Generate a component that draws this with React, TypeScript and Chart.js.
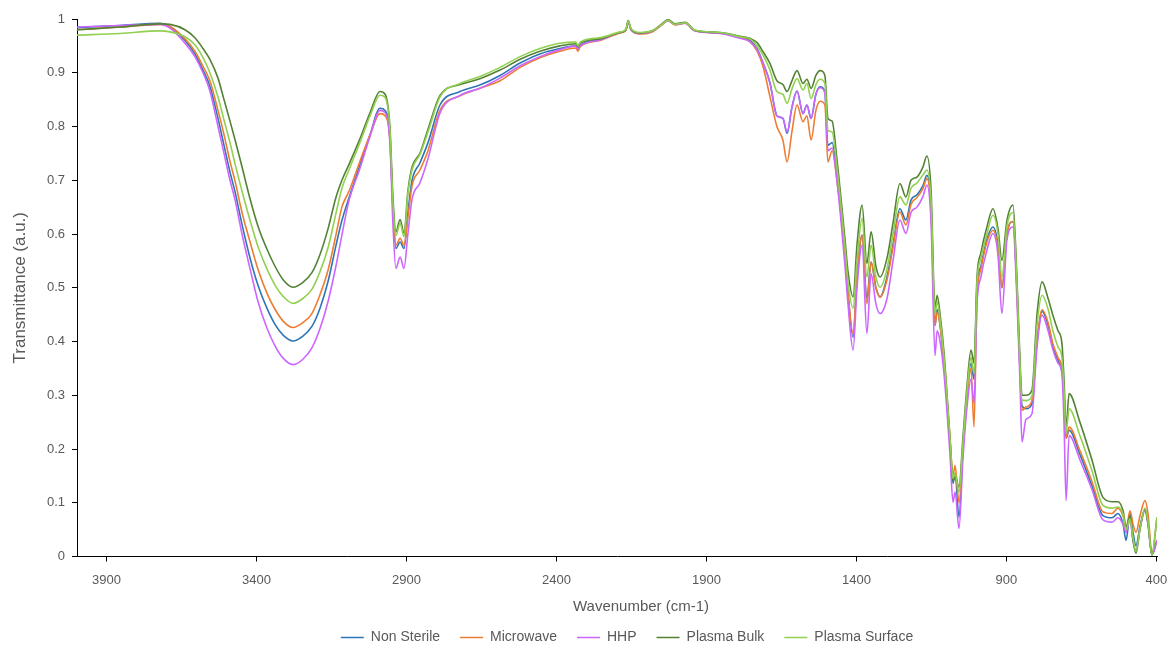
import React, { useEffect, useRef } from 'react';
import { Chart, registerables } from 'chart.js';

Chart.register(...registerables);

// Wavenumber (cm-1) sample positions shared by all series
const wavenumbers = [
  3998, 3855, 3721, 3688, 3638, 3605, 3578, 3555, 3528, 3508, 3488, 3471, 3448, 3421, 3395, 3365, 3338, 3311, 3278,
  3245, 3215, 3188, 3161, 3135, 3115, 3091, 3055, 3021, 2988, 2971, 2955, 2945, 2935, 2921, 2908, 2895, 2881, 2855,
  2828, 2788, 2721, 2655, 2588, 2521, 2455, 2388, 2335, 2328, 2321, 2255, 2188, 2168, 2161, 2151, 2121, 2081, 2048,
  2028, 2005, 1971, 1938, 1855, 1788, 1755, 1731, 1711, 1688, 1665, 1645, 1631, 1615, 1598, 1578, 1565, 1551, 1535,
  1521, 1505, 1495, 1481, 1465, 1438, 1428, 1411, 1398, 1381, 1365, 1351, 1335, 1321, 1298, 1278, 1255, 1235, 1218,
  1198, 1178, 1165, 1151, 1138, 1131, 1121, 1108, 1088, 1078, 1071, 1058, 1045, 1031, 1018, 1008, 998, 985, 965,
  945, 928, 915, 898, 878, 865, 855, 848, 835, 815, 798, 781, 761, 745, 728, 715, 708, 701, 691, 655, 615, 578, 548,
  528, 511, 501, 488, 478, 468, 455, 438, 428, 415, 398,
];

const nonSterile = [
  0.984, 0.988, 0.992, 0.986, 0.960, 0.935, 0.905, 0.875, 0.815, 0.765, 0.715, 0.678, 0.618, 0.555, 0.505, 0.462, 0.432, 0.412, 0.401,
  0.410, 0.428, 0.462, 0.512, 0.578, 0.625, 0.668, 0.728, 0.785, 0.834, 0.830, 0.780, 0.650, 0.573, 0.585, 0.573, 0.640, 0.700, 0.732,
  0.770, 0.840, 0.865, 0.877, 0.895, 0.918, 0.935, 0.945, 0.950, 0.944, 0.951, 0.962, 0.975, 0.980, 0.996, 0.980, 0.973, 0.977, 0.990,
  0.998, 0.990, 0.993, 0.978, 0.974, 0.966, 0.960, 0.945, 0.918, 0.881, 0.820, 0.815, 0.787, 0.835, 0.866, 0.824, 0.840, 0.815, 0.860,
  0.874, 0.865, 0.765, 0.770, 0.710, 0.560, 0.490, 0.408, 0.520, 0.598, 0.480, 0.548, 0.500, 0.483, 0.520, 0.580, 0.647, 0.626, 0.663,
  0.673, 0.690, 0.709, 0.650, 0.430, 0.460, 0.430, 0.360, 0.210, 0.136, 0.155, 0.073, 0.200, 0.300, 0.360, 0.330, 0.500, 0.540, 0.590,
  0.613, 0.580, 0.500, 0.600, 0.623, 0.500, 0.350, 0.281, 0.275, 0.284, 0.400, 0.456, 0.430, 0.390, 0.365, 0.345, 0.300, 0.220, 0.235, 0.190, 0.132, 0.076, 0.072,
  0.080, 0.060, 0.030, 0.080, 0.045, 0.020, 0.055, 0.088, 0.065, 0.003, 0.030,
];

const microwave = [
  0.980, 0.985, 0.990, 0.986, 0.963, 0.940, 0.912, 0.885, 0.830, 0.785, 0.735, 0.698, 0.640, 0.585, 0.535, 0.490, 0.460, 0.438, 0.426,
  0.435, 0.452, 0.487, 0.533, 0.598, 0.650, 0.680, 0.735, 0.785, 0.824, 0.820, 0.775, 0.650, 0.579, 0.592, 0.579, 0.630, 0.690, 0.719,
  0.755, 0.830, 0.857, 0.871, 0.885, 0.910, 0.928, 0.940, 0.946, 0.940, 0.948, 0.960, 0.974, 0.979, 0.994, 0.980, 0.972, 0.976, 0.989,
  0.997, 0.989, 0.992, 0.978, 0.974, 0.965, 0.958, 0.940, 0.911, 0.855, 0.800, 0.775, 0.734, 0.790, 0.840, 0.809, 0.820, 0.775, 0.830,
  0.847, 0.840, 0.734, 0.755, 0.700, 0.560, 0.490, 0.415, 0.520, 0.598, 0.470, 0.548, 0.500, 0.483, 0.515, 0.575, 0.641, 0.617, 0.655,
  0.668, 0.685, 0.703, 0.640, 0.430, 0.455, 0.430, 0.360, 0.220, 0.151, 0.169, 0.100, 0.200, 0.300, 0.350, 0.241, 0.480, 0.535, 0.585,
  0.607, 0.575, 0.500, 0.600, 0.623, 0.500, 0.350, 0.272, 0.278, 0.290, 0.400, 0.459, 0.435, 0.396, 0.370, 0.350, 0.300, 0.220, 0.241, 0.197, 0.140, 0.083, 0.080,
  0.090, 0.075, 0.050, 0.085, 0.060, 0.045, 0.075, 0.104, 0.080, 0.008, 0.030,
];

const hhp = [
  0.985, 0.988, 0.990, 0.983, 0.955, 0.930, 0.900, 0.866, 0.800, 0.750, 0.700, 0.663, 0.600, 0.535, 0.475, 0.425, 0.392, 0.369, 0.357,
  0.367, 0.388, 0.424, 0.475, 0.540, 0.598, 0.663, 0.722, 0.782, 0.830, 0.826, 0.770, 0.620, 0.536, 0.557, 0.536, 0.600, 0.665, 0.695,
  0.740, 0.825, 0.858, 0.871, 0.890, 0.913, 0.930, 0.943, 0.950, 0.944, 0.950, 0.961, 0.975, 0.980, 0.995, 0.980, 0.973, 0.977, 0.990,
  0.997, 0.990, 0.992, 0.978, 0.973, 0.964, 0.958, 0.943, 0.918, 0.881, 0.820, 0.815, 0.790, 0.835, 0.866, 0.824, 0.840, 0.815, 0.860,
  0.872, 0.862, 0.755, 0.760, 0.700, 0.540, 0.470, 0.384, 0.500, 0.579, 0.415, 0.526, 0.470, 0.452, 0.480, 0.550, 0.626, 0.601, 0.640,
  0.650, 0.670, 0.691, 0.620, 0.374, 0.420, 0.400, 0.340, 0.190, 0.101, 0.120, 0.052, 0.180, 0.280, 0.330, 0.285, 0.470, 0.520, 0.570,
  0.601, 0.560, 0.452, 0.590, 0.613, 0.480, 0.330, 0.213, 0.255, 0.265, 0.390, 0.449, 0.420, 0.385, 0.360, 0.340, 0.250, 0.104, 0.225, 0.180, 0.125, 0.068, 0.064,
  0.072, 0.060, 0.045, 0.070, 0.030, 0.010, 0.050, 0.085, 0.060, 0.003, 0.030,
];

const plasmaBulk = [
  0.980, 0.985, 0.991, 0.990, 0.980, 0.965, 0.945, 0.925, 0.890, 0.850, 0.810, 0.775, 0.725, 0.665, 0.615, 0.572, 0.540, 0.515, 0.501,
  0.510, 0.528, 0.562, 0.610, 0.668, 0.700, 0.730, 0.777, 0.826, 0.865, 0.860, 0.800, 0.670, 0.604, 0.627, 0.601, 0.680, 0.725, 0.750,
  0.795, 0.858, 0.878, 0.889, 0.905, 0.925, 0.940, 0.950, 0.954, 0.948, 0.955, 0.963, 0.975, 0.980, 0.997, 0.981, 0.974, 0.978, 0.991,
  0.999, 0.991, 0.994, 0.979, 0.975, 0.968, 0.964, 0.956, 0.939, 0.917, 0.885, 0.878, 0.865, 0.885, 0.904, 0.880, 0.888, 0.871, 0.895,
  0.904, 0.895, 0.815, 0.810, 0.740, 0.590, 0.530, 0.483, 0.580, 0.654, 0.545, 0.604, 0.540, 0.520, 0.555, 0.620, 0.694, 0.669, 0.700,
  0.706, 0.725, 0.745, 0.680, 0.460, 0.486, 0.450, 0.380, 0.220, 0.140, 0.150, 0.129, 0.220, 0.320, 0.384, 0.360, 0.520, 0.565, 0.613,
  0.647, 0.610, 0.551, 0.626, 0.654, 0.520, 0.370, 0.300, 0.300, 0.309, 0.450, 0.511, 0.480, 0.449, 0.420, 0.397, 0.330, 0.240, 0.303, 0.250, 0.180, 0.110, 0.102,
  0.102, 0.085, 0.055, 0.075, 0.030, 0.006, 0.050, 0.088, 0.060, 0.003, 0.073,
];

const plasmaSurface = [
  0.970, 0.973, 0.978, 0.976, 0.967, 0.952, 0.928, 0.900, 0.855, 0.812, 0.770, 0.730, 0.680, 0.625, 0.577, 0.535, 0.505, 0.484, 0.471,
  0.480, 0.497, 0.530, 0.575, 0.638, 0.685, 0.720, 0.770, 0.820, 0.858, 0.854, 0.795, 0.660, 0.597, 0.620, 0.595, 0.675, 0.720, 0.748,
  0.790, 0.855, 0.880, 0.893, 0.910, 0.930, 0.945, 0.955, 0.957, 0.950, 0.957, 0.965, 0.976, 0.981, 0.996, 0.982, 0.975, 0.978, 0.990,
  0.998, 0.990, 0.993, 0.979, 0.975, 0.967, 0.963, 0.950, 0.933, 0.905, 0.865, 0.860, 0.843, 0.870, 0.889, 0.868, 0.880, 0.852, 0.878,
  0.888, 0.880, 0.793, 0.790, 0.725, 0.575, 0.510, 0.462, 0.550, 0.629, 0.520, 0.579, 0.520, 0.501, 0.535, 0.600, 0.669, 0.654, 0.685,
  0.695, 0.710, 0.719, 0.660, 0.450, 0.474, 0.440, 0.370, 0.220, 0.145, 0.155, 0.120, 0.210, 0.310, 0.370, 0.340, 0.510, 0.555, 0.600,
  0.635, 0.600, 0.520, 0.615, 0.640, 0.510, 0.360, 0.291, 0.290, 0.298, 0.430, 0.486, 0.460, 0.420, 0.390, 0.370, 0.310, 0.230, 0.275, 0.225, 0.160, 0.095, 0.090,
  0.092, 0.078, 0.050, 0.070, 0.035, 0.010, 0.050, 0.090, 0.065, 0.003, 0.073,
];

const seriesNames = ['Non Sterile', 'Microwave', 'HHP', 'Plasma Bulk', 'Plasma Surface'];
const seriesColors = ['#2E75B6', '#ED7D31', '#CC66FF', '#548235', '#92D050'];
const xTickValues = [3900, 3400, 2900, 2400, 1900, 1400, 900, 400];
const yTickValues = [0, 0.1, 0.2, 0.3, 0.4, 0.5, 0.6, 0.7, 0.8, 0.9, 1];
const xTitle = 'Wavenumber (cm-1)';
const yTitle = 'Transmittance (a.u.)';

const FONT = '"Liberation Sans", Arial, sans-serif';
const TEXT = '#595959';

const xTitlePlugin = {
  id: 'xTitleDraw',
  afterLayout(chart: any) {
    if (chart.legend) {
      chart.legend.left += 10;
      chart.legend.right += 10;
    }
  },
  afterDraw(chart: any) {
    const { ctx, chartArea } = chart;
    ctx.save();
    ctx.font = `15px ${FONT}`;
    ctx.fillStyle = TEXT;
    ctx.textAlign = 'center';
    ctx.textBaseline = 'middle';
    ctx.fillText(xTitle, (chartArea.left + chartArea.right) / 2 + 24, chartArea.bottom + 50);
    ctx.restore();
  },
};

export default function App() {
  const canvasRef = useRef<HTMLCanvasElement>(null);

  useEffect(() => {
    document.body.style.margin = '0';
    document.body.style.overflow = 'hidden';
    const series = [nonSterile, microwave, hhp, plasmaBulk, plasmaSurface];
    const chart = new Chart(canvasRef.current as HTMLCanvasElement, {
      type: 'line',
      data: {
        datasets: series.map((vals, i) => ({
          label: seriesNames[i],
          data: wavenumbers.map((x, j) => ({ x, y: vals[j] })),
          borderColor: seriesColors[i],
          backgroundColor: seriesColors[i],
          borderWidth: 1.6,
          pointRadius: 0,
          pointHoverRadius: 0,
          pointStyle: 'line',
          cubicInterpolationMode: 'monotone',
          fill: false,
          order: series.length - i,
        })),
      },
      options: {
        responsive: false,
        animation: false,
        events: [],
        layout: { padding: { left: 0, right: 12, top: 19, bottom: -7.5 } },
        plugins: {
          legend: {
            position: 'bottom',
            fullSize: false,
            labels: {
              usePointStyle: true,
              pointStyle: 'line',
              pointStyleWidth: 23,
              padding: 20,
              color: TEXT,
              font: { family: FONT, size: 14 },
              sort: (a: any, b: any) => a.datasetIndex - b.datasetIndex,
            },
          },
          tooltip: { enabled: false },
        },
        scales: {
          x: {
            type: 'linear',
            reverse: true,
            min: 398,
            max: 3998,
            afterBuildTicks: (s: any) => {
              s.ticks = xTickValues.map((v) => ({ value: v }));
            },
            afterFit: (s: any) => {
              s.height = 54;
              s.paddingLeft = 0;
              s.paddingRight = 0;
            },
            ticks: {
              color: TEXT,
              font: { family: FONT, size: 13 },
              padding: 11,
              maxRotation: 0,
              autoSkip: false,
              callback: (v: any) => String(v),
            },
            grid: { drawOnChartArea: false, drawTicks: true, tickLength: 5, color: '#000', lineWidth: 1 },
            border: { display: true, color: '#000', width: 1 },
            title: { display: false },
          },
          y: {
            min: 0,
            max: 1,
            afterBuildTicks: (s: any) => {
              s.ticks = yTickValues.map((v) => ({ value: v }));
            },
            afterFit: (s: any) => {
              s.width = 77;
            },
            ticks: {
              color: TEXT,
              font: { family: FONT, size: 13 },
              padding: 7,
              callback: (v: any) => String(Math.round(Number(v) * 10) / 10),
            },
            grid: { drawOnChartArea: false, drawTicks: true, tickLength: 5, color: '#000', lineWidth: 1 },
            border: { display: true, color: '#000', width: 1 },
            title: {
              display: true,
              text: yTitle,
              color: TEXT,
              font: { family: FONT, size: 17 },
              padding: { top: 10, bottom: 0 },
            },
          },
        },
      },
      plugins: [xTitlePlugin],
    });
    return () => chart.destroy();
  }, []);

  return (
    <div style={{ width: 1169, height: 647 }}>
      <canvas ref={canvasRef} width={1169} height={647} style={{ display: 'block' }} />
    </div>
  );
}
